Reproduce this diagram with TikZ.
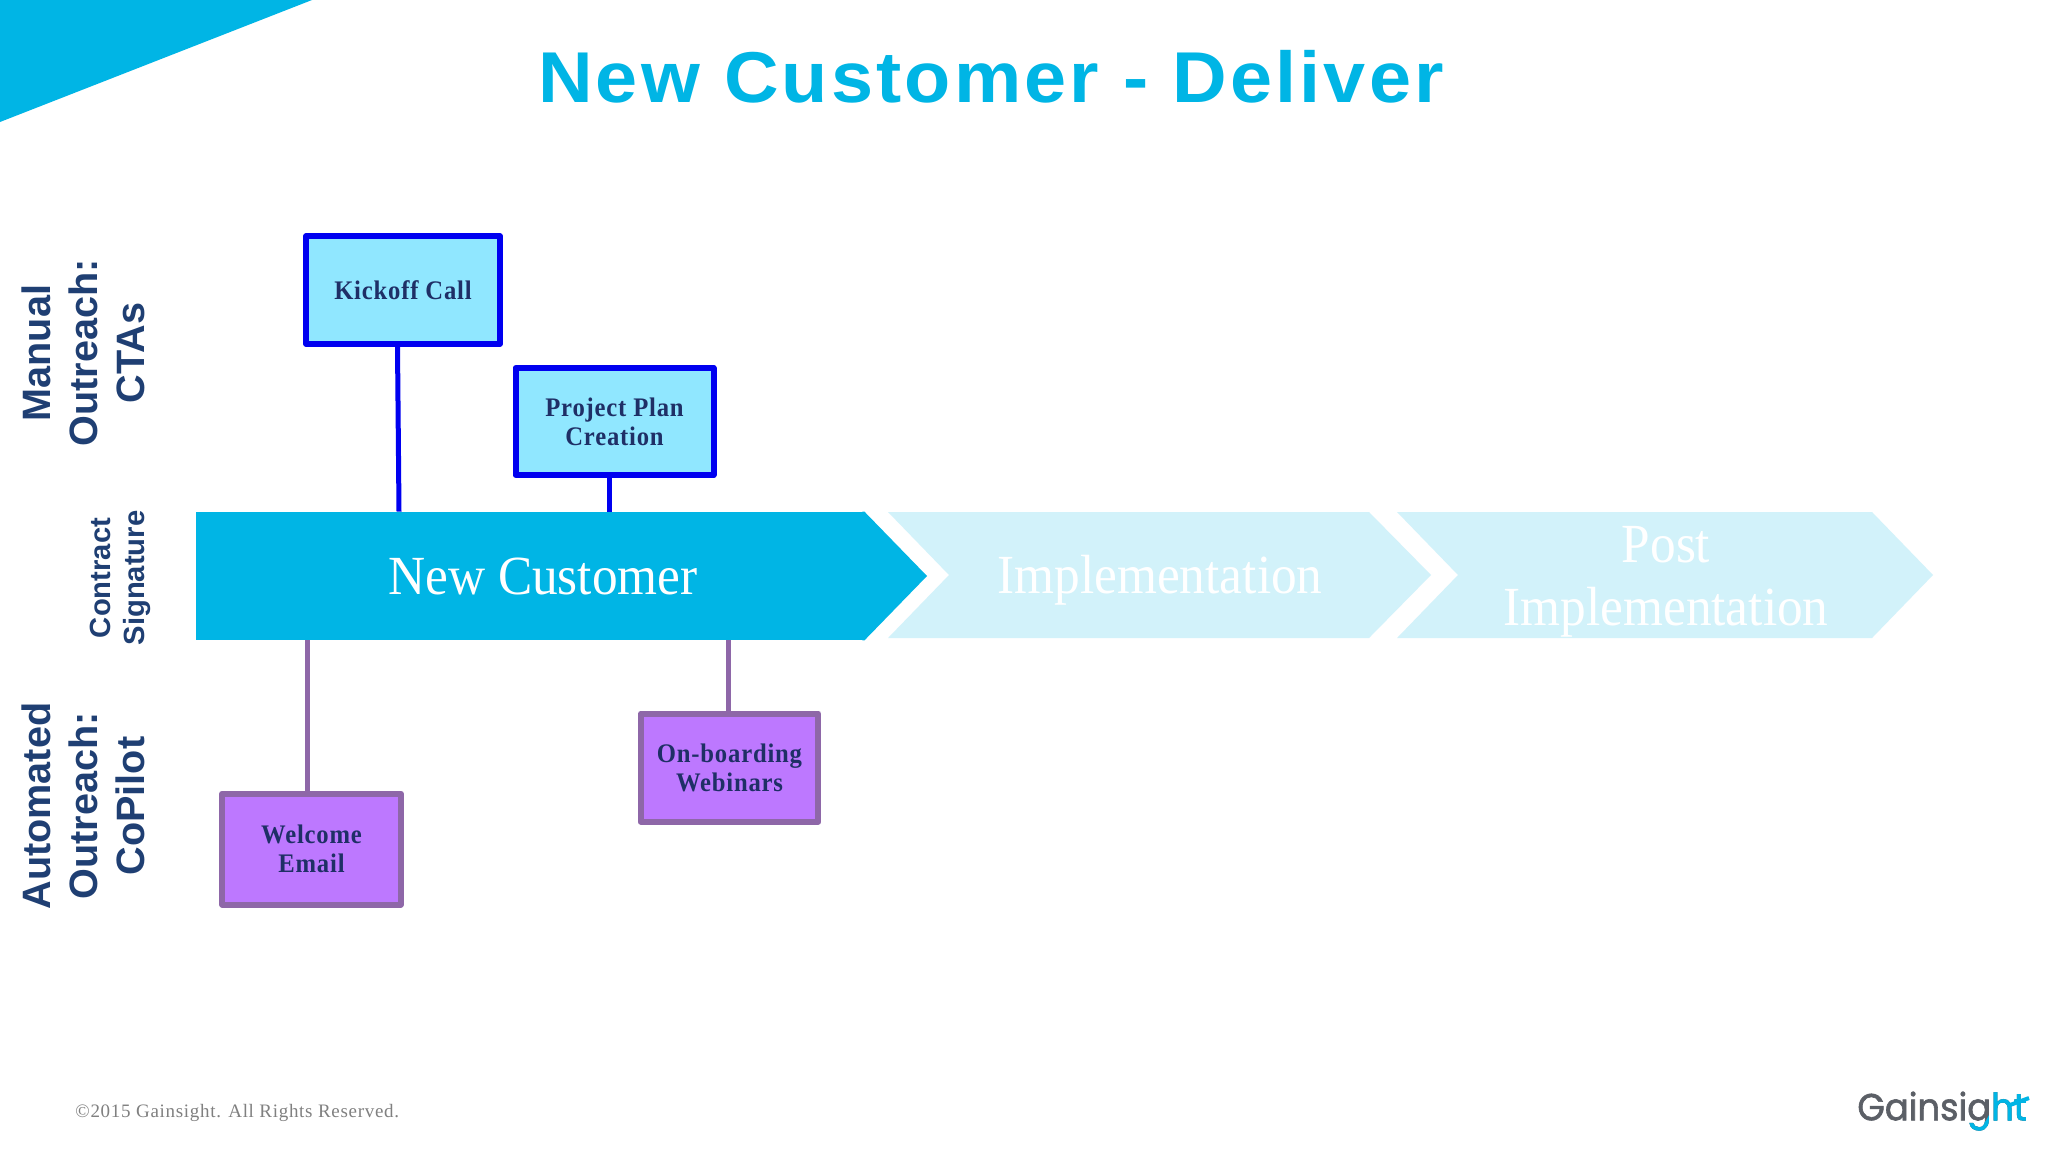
\documentclass[tikz,border=0pt]{standalone}
\usepackage{fontspec}
\setmainfont{Liberation Serif}
\newfontfamily\sidefont{Liberation Sans}
\newfontfamily\titlefont[LetterSpace=4.4,FakeStretch=1.05]{Liberation Sans}
\newfontfamily\boxfont[LetterSpace=3,FakeStretch=0.92]{Liberation Serif}
\newfontfamily\phasefont[FakeStretch=0.93]{Liberation Serif}
\newfontfamily\footfont[LetterSpace=3.7]{Liberation Serif}
\newfontfamily\logofont[FakeBold=1.6,FakeStretch=0.94]{Poppins}
\definecolor{gsblue}{HTML}{00B5E5}
\definecolor{gspale}{HTML}{D2F2FA}
\definecolor{ctafill}{HTML}{90E7FF}
\definecolor{ctaline}{HTML}{0000F0}
\definecolor{cpfill}{HTML}{BD78FF}
\definecolor{cpline}{HTML}{8E67A8}
\definecolor{navy}{HTML}{1F3F73}
\definecolor{boxtext}{HTML}{1F2F66}
\definecolor{logogrey}{HTML}{5B5F66}
\tikzset{
  tile/.style={rectangle,inner sep=0pt,align=center,text=boxtext,line join=round,
    font=\boxfont\bfseries\fontsize{13.4}{14.4}\selectfont},
  ctabox/.style={tile,draw=ctaline,fill=ctafill,line width=3pt},
  cpbox/.style={tile,draw=cpline,fill=cpfill,line width=3pt},
  ctalink/.style={draw=ctaline,line width=2.5pt},
  cplink/.style={draw=cpline,line width=2.5pt},
  sidelabel/.style={rotate=90,align=center,text=navy,inner sep=0pt,
    font=\sidefont\bfseries\fontsize{19.8}{23.5}\selectfont},
  smallside/.style={rotate=90,align=center,text=navy,inner sep=0pt,
    font=\sidefont\bfseries\fontsize{14.6}{17}\selectfont},
  phase/.style={align=center,inner sep=0pt,text=white,
    font=\phasefont\fontsize{27.6}{24}\selectfont},
  logotext/.style={inner sep=0pt,anchor=center,font=\logofont\fontsize{18.8}{24}\selectfont}
}
\begin{document}
\begin{tikzpicture}[x=0.5pt,y=-0.5pt]
\useasboundingbox (0,0) rectangle (2048,1152);
\fill[white] (0,0) rectangle (2048,1152);
\fill[gsblue] (0,0) -- (312,0) -- (0,122) -- cycle;
\node[text=gsblue,inner sep=0pt,font=\titlefont\bfseries\fontsize{36}{40}\selectfont] (title) at (991,77) {New Customer - Deliver};

% chevrons
\fill[gspale] (888,512) -- (1369,512) -- (1431,575) -- (1369,638) -- (888,638) -- (949,575) -- cycle;
\fill[gspale] (1397,512) -- (1872,512) -- (1933,575) -- (1872,638) -- (1397,638) -- (1458,575) -- cycle;
\node[rectangle,fill=gsblue,inner sep=0pt,minimum width=334pt,minimum height=64pt] (mainbar) at (530,576) {};
\fill[gsblue] ([xshift=-1pt]mainbar.north east) -- (mainbar.north east) -- (927,576) -- (mainbar.south east) -- ([xshift=-1pt]mainbar.south east) -- cycle;
\node[phase] (newc) at (543,576) {New Customer};
\node[phase] (impl) at (1160,580) {Implementation};
\node[phase] (post) at (1666,582) {Post\\[7.6pt]Implementation};

% boxes
\node[ctabox,minimum width=97pt,minimum height=53.75pt] (kick) at (403,290) {Kickoff Call};
\node[ctabox,minimum width=99pt,minimum height=53.5pt] (plan) at (614.5,421.5) {Project Plan\\Creation};
\node[cpbox,minimum width=89.25pt,minimum height=55.5pt] (welcome) at (311.5,849) {Welcome\\Email};
\node[cpbox,minimum width=88.8pt,minimum height=54pt] (webinar) at (729.5,767.5) {On-boarding\\Webinars};

% connectors
\draw[ctalink] ([xshift=-2.75pt]kick.south) -- ([xshift=-2pt]kick.south |- mainbar.north);
\draw[ctalink] ([xshift=-2.75pt]plan.south) -- ([xshift=-2.75pt]plan.south |- mainbar.north);
\draw[cplink] ([xshift=-2pt]welcome.north) -- ([xshift=-2pt]welcome.north |- mainbar.south);
\draw[cplink] ([xshift=-0.75pt]webinar.north) -- ([xshift=-0.75pt]webinar.north |- mainbar.south);

% side labels
\node[sidelabel] (manual) at (83,353) {Manual\\Outreach:\\CTAs};
\node[smallside] (contract) at (120,578) {Contract\\Signature};
\node[sidelabel] (auto) at (83,806) {Automated\\Outreach:\\CoPilot};

% footer
\node[inner sep=0pt,anchor=west,text=gray,font=\footfont\fontsize{9.5}{11}\selectfont] (foot) at (75,1113) {©2015 Gainsight. All Rights Reserved.};

% logo
\node[logotext,text=logogrey] (logo) at (1942,1111) {Gainsight};
\begin{scope}
\clip (1955,1122) -- (1985,1122) -- (1993,1108) -- (1993,1088) -- (2040,1088) -- (2040,1140) -- (1955,1140) -- cycle;
\node[logotext,text=gsblue] (logoblue) at (1942,1111) {Gainsight};
\end{scope}
\draw[gsblue,line width=2pt] (2010,1105) -- (2029,1098);
\end{tikzpicture}
\end{document}
